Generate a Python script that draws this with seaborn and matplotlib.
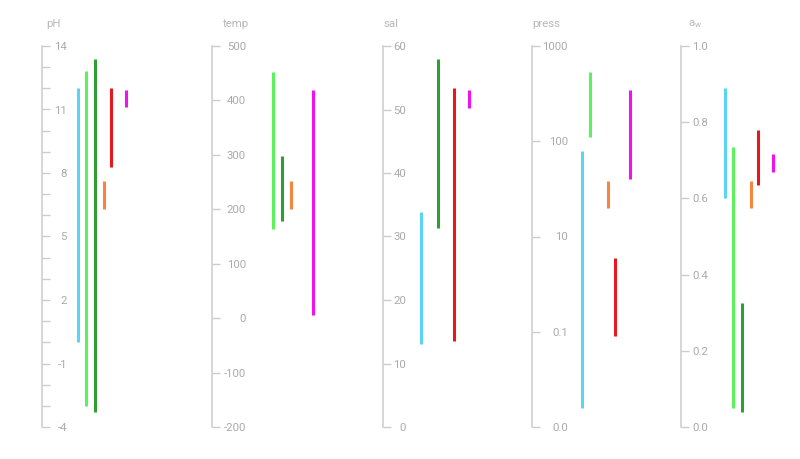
import pandas as pd
import seaborn as sns
import matplotlib.pyplot as plt
from matplotlib.ticker import FixedLocator, MultipleLocator

sns.set_theme(style="white")
plt.rcParams['font.family'] = ['Roboto', 'DejaVu Sans']
plt.rcParams['axes.unicode_minus'] = False

# organisms (one colour each) and their tolerance ranges per variable
organisms = ['blue', 'light green', 'dark green', 'orange', 'red', 'magenta']
colors = ['#5ad3f5', '#5df25d', '#2f9e33', '#f5853f', '#e5191c', '#ef12ef']

ph_lo = [0.0, -3.0, -3.3, 6.3, 8.3, 11.1]
ph_hi = [12.0, 12.8, 13.4, 7.6, 12.0, 11.9]

temp_lo = [None, 164, 178, 200, None, 5]
temp_hi = [None, 452, 297, 252, None, 419]

sal_lo = [13.0, None, 31.3, None, 13.5, 50.2]
sal_hi = [33.8, None, 58.0, None, 53.4, 53.0]

press_lo = [0.157, 112, None, 19.8, 0.9, 40]
press_hi = [79, 533, None, 38, 6.0, 343]

aw_lo = [0.60, 0.05, 0.04, 0.574, 0.636, 0.669]
aw_hi = [0.89, 0.736, 0.326, 0.646, 0.78, 0.717]

ph_ticks = [14, 11, 8, 5, 2, -1, -4]
temp_ticks = [500, 400, 300, 200, 100, 0, -100, -200]
sal_ticks = [60, 50, 40, 30, 20, 10, 0]
press_ticks = [1000, 100, 10, 1, 0.1]
press_labels = ['1000', '100', '10', '0.1', '0.0']
aw_ticks = [1.0, 0.8, 0.6, 0.4, 0.2, 0.0]

# layout (pixels)
W, H = 800, 459
top_px, bot_px = 46, 427
lane_offset = [0, 8, 17, 26, 33, 48]

panels = [
    # title, lo, hi, ylim, ticks, labels, scale, axis x, group start, label pad px, title x
    ('pH', ph_lo, ph_hi, (-4, 14), ph_ticks, None, 'linear', 42, 35.7, 17, 46),
    ('temp', temp_lo, temp_hi, (-200, 500), temp_ticks, None, 'linear', 212, 53, 26, 223),
    ('sal', sal_lo, sal_hi, (0, 60), sal_ticks, None, 'linear', 383, 38, 15, 383),
    ('press', press_lo, press_hi, (0.1, 1000), press_ticks, press_labels, 'log', 532, 50, 28, 532),
    ('a$_\\mathregular{w}$', aw_lo, aw_hi, (0, 1), aw_ticks, None, 'linear', 681, 44, 19, 688),
]

fig = plt.figure(figsize=(W / 100, H / 100), dpi=100)
axis_color = '#cccccc'
label_color = '#aaaaaa'
px = 0.72  # points per pixel

for title, lo, hi, ylim, ticks, labels, scale, ax_x, start, pad, title_x in panels:
    width_px = 125
    ax = fig.add_axes([ax_x / W, (H - bot_px) / H, width_px / W, (bot_px - top_px) / H])
    ax.set_yscale(scale)

    rows = []
    for i, org in enumerate(organisms):
        if lo[i] is None:
            continue
        x = start + lane_offset[i]
        rows.append({'organism': org, 'x': x, 'value': lo[i]})
        rows.append({'organism': org, 'x': x, 'value': hi[i]})
    df = pd.DataFrame(rows)

    sns.lineplot(data=df, x='x', y='value', hue='organism', units='organism',
                 estimator=None, errorbar=None, sort=False,
                 hue_order=organisms, palette=dict(zip(organisms, colors)),
                 linewidth=2.2, solid_capstyle='butt', legend=False, ax=ax)

    ax.set_xlim(0, width_px)
    ax.set_ylim(*ylim)
    ax.set_xlabel('')
    ax.set_ylabel('')
    ax.set_xticks([])

    for s in ['left', 'top', 'bottom']:
        ax.spines[s].set_visible(False)
    ax.spines['right'].set_position(('axes', 0))
    ax.spines['right'].set_color(axis_color)
    ax.spines['right'].set_linewidth(1.1)

    ax.yaxis.set_major_locator(FixedLocator(ticks))
    if labels is not None:
        ax.set_yticks(ticks, labels)
    ax.yaxis.set_minor_locator(FixedLocator([]))
    if title == 'pH':
        ax.yaxis.set_minor_locator(MultipleLocator(1))
    ax.tick_params(axis='y', which='both', left=False, labelleft=False,
                   right=True, labelright=True, direction='out',
                   length=8 * px, width=1.0, color=axis_color,
                   labelcolor=label_color, labelsize=8.2, pad=pad * px)
    plt.setp(ax.get_yticklabels(), ha='right')

    fig.text(title_x / W, 1 - 24 / H, title, ha='left', va='center',
             color='#b8b8b8', fontsize=8.2)

fig.savefig('out.png', dpi=100)
